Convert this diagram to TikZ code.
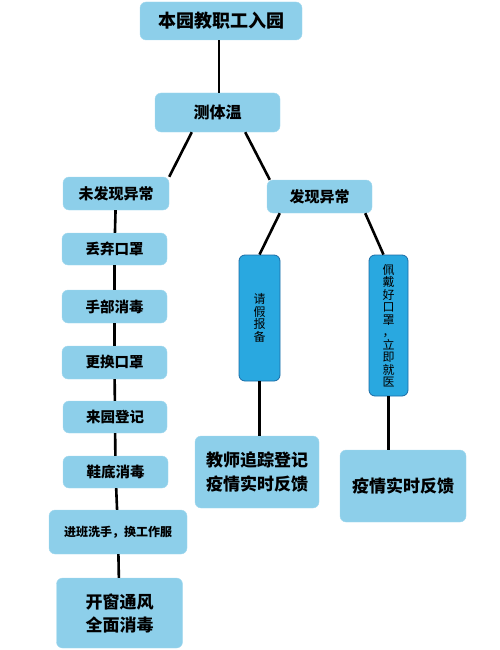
\documentclass[tikz,border=0pt]{standalone}
\usepackage{fontspec}
\setmainfont{Noto Sans CJK SC}
\usepackage{xcolor}
\usepackage{tikz}
\usetikzlibrary{calc}

\definecolor{lightbox}{RGB}{141,207,234}
\definecolor{deepbox}{RGB}{41,168,224}
\definecolor{deepedge}{RGB}{28,108,165}

\begin{document}
\begin{tikzpicture}[x=1pt,y=-1pt,
  box/.style={fill=lightbox,draw=lightbox!80!white,rounded corners=6pt,align=center,inner sep=0pt,font=\bfseries},
  vbox/.style={fill=deepbox,draw=deepedge,line width=0.8pt,rounded corners=6pt,align=center,inner sep=0pt,font=\fontsize{12}{12.5}\selectfont},
  link/.style={line width=2.6pt,black}]

\useasboundingbox (0,0) rectangle (499,650);

\node[box,minimum width=162,minimum height=38,font=\bfseries\fontsize{18}{20}\selectfont](enter) at (221,21){本园教职工入园};
\node[box,minimum width=125,minimum height=39,font=\bfseries\fontsize{16}{18}\selectfont](temp) at (217.5,112.5){测体温};
\coordinate (axis) at (219,0);

\node[box,minimum width=106,minimum height=33,font=\bfseries\fontsize{15}{17}\selectfont](normal) at (116,193.5){未发现异常};
\node[box,minimum width=105,minimum height=33,font=\bfseries\fontsize{15}{17}\selectfont](abnormal) at (319.5,196.5){发现异常};

\node[box,minimum width=105,minimum height=32,font=\bfseries\fontsize{14.5}{16}\selectfont](drop) at (114.5,249){丢弃口罩};
\node[box,minimum width=105,minimum height=33,font=\bfseries\fontsize{14.5}{16}\selectfont](hand) at (114.5,306.5){手部消毒};
\node[box,minimum width=105,minimum height=33,font=\bfseries\fontsize{14.5}{16}\selectfont](change) at (114.5,362.5){更换口罩};
\node[box,minimum width=104,minimum height=32,font=\bfseries\fontsize{14.5}{16}\selectfont](sign) at (115,417){来园登记};
\node[box,minimum width=105,minimum height=32,font=\bfseries\fontsize{14.5}{16}\selectfont](shoe) at (115.5,472){鞋底消毒};
\node[box,minimum width=138,minimum height=44,font=\bfseries\fontsize{12}{14}\selectfont](wash) at (118,532){进班洗手，换工作服};
\node[box,minimum width=126,minimum height=70,font=\bfseries\fontsize{17}{23}\selectfont](air) at (119.5,613){开窗通风\\全面消毒};

\node[vbox,minimum width=41,minimum height=126](leave) at (259.5,318){请\\假\\报\\备};
\node[vbox,minimum width=39,minimum height=141](mask) at (388.5,325.5){佩\\戴\\好\\口\\罩\\，\\立\\即\\就\\医};

\node[box,minimum width=124,minimum height=72,font=\bfseries\fontsize{17}{24}\selectfont](track) at (257,472){教师追踪登记\\疫情实时反馈};
\node[box,minimum width=126,minimum height=72,font=\bfseries\fontsize{17}{20}\selectfont](report) at (403,486){疫情实时反馈};

\draw[link](enter.south -| axis)--(temp.north -| axis);
\draw[link]([xshift=37]temp.south west)--(normal.north east);
\draw[link]([xshift=-35]temp.south east)--([xshift=3]abnormal.north west);
\draw[link]([xshift=13]abnormal.south west)--(leave.north);
\draw[link]([xshift=-7]abnormal.south east)--([xshift=-5]mask.north);
\draw[link](leave.south)--(leave.south |- track.north);
\draw[link](mask.south)--(mask.south |- report.north);

\draw[link](normal)--(drop);
\draw[link](drop)--(hand);
\draw[link](hand)--(change);
\draw[link](change)--(sign);
\draw[link](sign)--(shoe);
\draw[link](shoe)--(wash);
\draw[link](wash)--(air);

\end{tikzpicture}
\end{document}
